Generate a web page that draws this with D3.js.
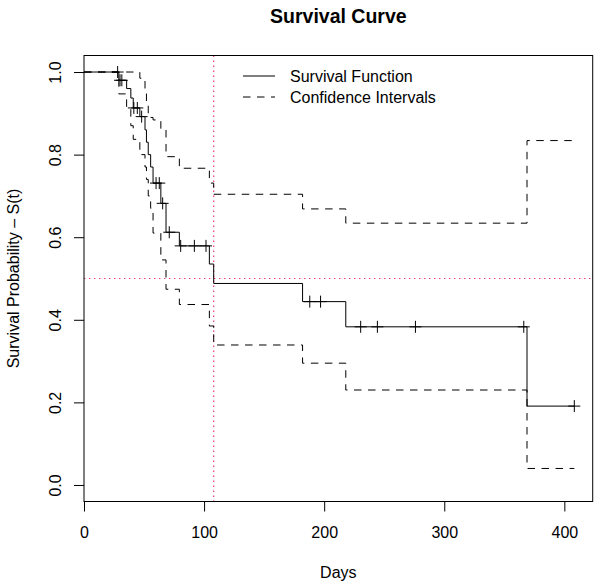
<!DOCTYPE html>
<html>
<head>
<meta charset="utf-8">
<script src="https://cdn.jsdelivr.net/npm/d3@7/dist/d3.min.js"></script>
<style>
  html, body { margin: 0; padding: 0; background: #fff; }
  svg { display: block; font-family: "Liberation Sans", Arial, Helvetica, sans-serif; }
</style>
</head>
<body>
<svg id="chart" width="600" height="586"></svg>
<script>
// ---- data ----
const stepTimes  = [0, 29, 35.5, 39, 41, 46.5, 50.8, 52, 53.5, 55.5, 57.5, 64, 68.3, 79.4, 104.4, 108, 182, 218, 368.9];
const survival   = [1, 0.98, 0.96, 0.937, 0.913, 0.892, 0.86, 0.83, 0.80, 0.77, 0.731, 0.682, 0.612, 0.579, 0.535, 0.488, 0.444, 0.383, 0.191];
const upperCI    = [1, 1, 1, 1, 1, 0.985, 0.95, 0.925, 0.90, 0.89, 0.884, 0.86, 0.795, 0.767, 0.731, 0.704, 0.6685, 0.634, 0.834];
const lowerCI    = [1, 0.947, 0.91, 0.87, 0.837, 0.80, 0.77, 0.74, 0.70, 0.67, 0.61, 0.545, 0.474, 0.437, 0.385, 0.339, 0.295, 0.23, 0.04];
const lastTime   = 408.3;
const censorTimes = [28, 30, 31.5, 41.5, 44.4, 48, 60, 62.7, 65.5, 71, 80.5, 91.9, 101.6, 188, 197, 230.4, 244.3, 276, 366.2, 408.3];
const medianTime = 108;
const medianLevel = 0.5;
const xTicks = [0, 100, 200, 300, 400];
const yTicks = [0, 0.2, 0.4, 0.6, 0.8, 1.0];
const legendLabels = ["Survival Function", "Confidence Intervals"];

// ---- layout ----
const svg = d3.select("#chart");
const pL = 84, pR = 592.7, pT = 55.5, pB = 501.5;
const x = d3.scaleLinear().domain([0, 423.6]).range([pL, pR]);
const y = d3.scaleLinear().domain([-0.04, 1.04]).range([pB, pT]);
const red = "#F2387A";

svg.append("defs").append("clipPath").attr("id", "plotclip")
  .append("rect").attr("x", pL).attr("y", pT).attr("width", pR - pL).attr("height", pB - pT);

const plot = svg.append("g").attr("clip-path", "url(#plotclip)");

// reference lines
plot.append("line")
  .attr("x1", pL).attr("x2", pR).attr("y1", y(medianLevel)).attr("y2", y(medianLevel))
  .attr("stroke", red).attr("stroke-width", 1.2).attr("stroke-dasharray", "1.4,3.6");
plot.append("line")
  .attr("x1", x(medianTime)).attr("x2", x(medianTime)).attr("y1", pT).attr("y2", pB)
  .attr("stroke", red).attr("stroke-width", 1.2).attr("stroke-dasharray", "1.4,3.6");

function stepData(vals) {
  const pts = stepTimes.map((t, i) => [t, vals[i]]);
  pts.push([lastTime, vals[vals.length - 1]]);
  return pts;
}
const stepLine = d3.line().x(d => x(d[0])).y(d => y(d[1])).curve(d3.curveStepAfter);

plot.append("path").datum(stepData(upperCI))
  .attr("d", stepLine).attr("fill", "none").attr("stroke", "#000").attr("stroke-width", 1)
  .attr("stroke-dasharray", "7.5,6.5");
plot.append("path").datum(stepData(lowerCI))
  .attr("d", stepLine).attr("fill", "none").attr("stroke", "#000").attr("stroke-width", 1)
  .attr("stroke-dasharray", "7.5,6.5");
plot.append("path").datum(stepData(survival))
  .attr("d", stepLine).attr("fill", "none").attr("stroke", "#000").attr("stroke-width", 1);

// censor marks
function survAt(t) {
  const i = d3.bisectRight(stepTimes, t) - 1;
  return survival[Math.max(0, i)];
}
const cs = 6;
plot.selectAll(".censor").data(censorTimes).join("path")
  .attr("class", "censor")
  .attr("d", t => {
    const cx = x(t), cy = y(survAt(t));
    return `M${cx - cs},${cy}H${cx + cs}M${cx},${cy - cs}V${cy + cs}`;
  })
  .attr("stroke", "#000").attr("stroke-width", 1).attr("fill", "none");

// box
svg.append("rect").attr("x", pL).attr("y", pT).attr("width", pR - pL).attr("height", pB - pT)
  .attr("fill", "none").attr("stroke", "#000").attr("stroke-width", 1);

// x axis
const gx = svg.append("g").attr("transform", `translate(0,${pB})`)
  .call(d3.axisBottom(x).tickValues(xTicks).tickSize(10).tickFormat(d3.format("d")));
gx.select(".domain").remove();
gx.selectAll("line").attr("stroke", "#000");
gx.selectAll("text").attr("y", 36.5).attr("dy", null).attr("font-size", 16)
  .attr("fill", "#000").attr("font-family", "Liberation Sans, Arial, sans-serif");

// y axis
const gy = svg.append("g").attr("transform", `translate(${pL},0)`)
  .call(d3.axisLeft(y).tickValues(yTicks).tickSize(10).tickFormat(d3.format(".1f")));
gy.select(".domain").remove();
gy.selectAll("line").attr("stroke", "#000");
gy.selectAll("text").attr("x", null).attr("dy", null)
  .attr("transform", "translate(-23,0) rotate(-90)")
  .attr("text-anchor", "middle").attr("font-size", 16)
  .attr("fill", "#000").attr("font-family", "Liberation Sans, Arial, sans-serif");

// titles
const midX = (pL + pR) / 2, midY = (pT + pB) / 2;
svg.append("text").attr("x", midX).attr("y", 23).attr("text-anchor", "middle")
  .attr("font-size", 19.5).attr("font-weight", "bold").text("Survival Curve");
svg.append("text").attr("x", midX).attr("y", 578).attr("text-anchor", "middle")
  .attr("font-size", 16).text("Days");
svg.append("text").attr("transform", `translate(19,${midY}) rotate(-90)`).attr("text-anchor", "middle")
  .attr("font-size", 16).text("Survival Probability \u2013 S(t)");

// legend
const legRowY = [76, 97];
const leg = svg.append("g");
legendLabels.forEach((lab, i) => {
  leg.append("line").attr("x1", 243).attr("x2", 275).attr("y1", legRowY[i]).attr("y2", legRowY[i])
    .attr("stroke", "#000").attr("stroke-width", 1)
    .attr("stroke-dasharray", i === 1 ? "7.5,6.5" : null);
  leg.append("text").attr("x", 290).attr("y", legRowY[i]).attr("dy", "0.36em")
    .attr("font-size", 16).text(lab);
});
</script>
</body>
</html>
